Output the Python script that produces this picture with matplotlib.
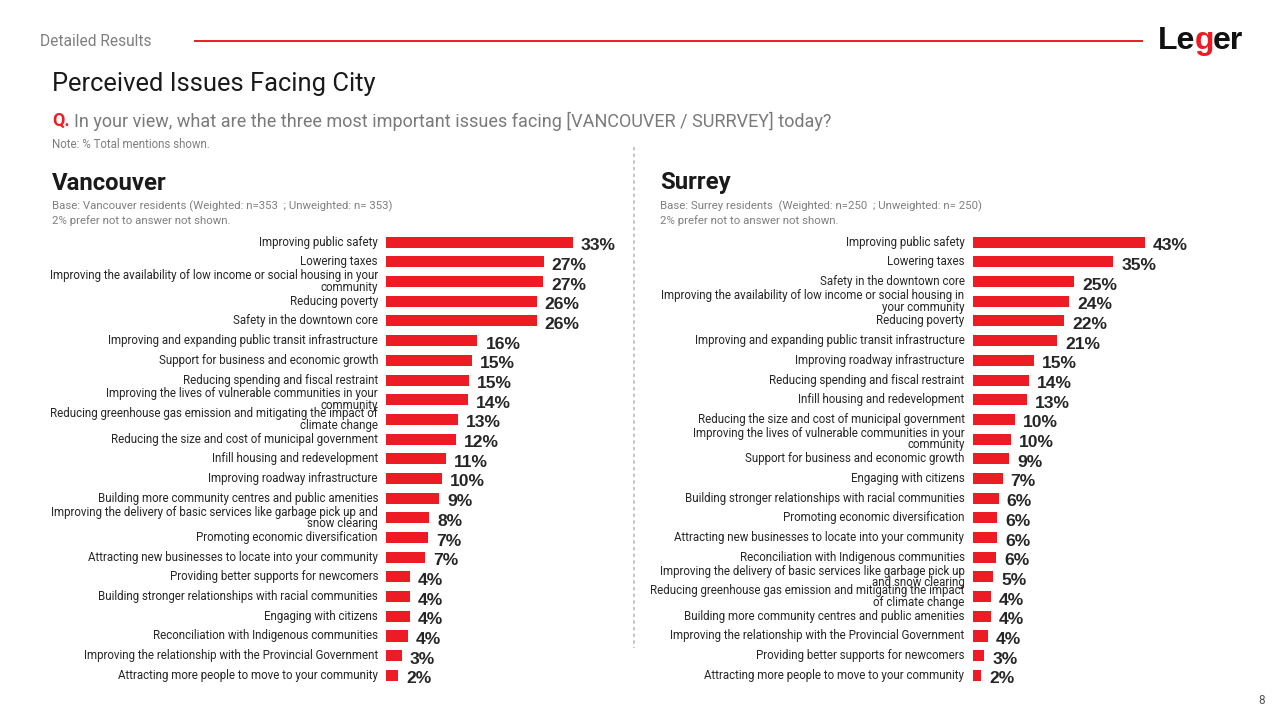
import matplotlib
matplotlib.use("Agg")
import matplotlib.pyplot as plt
from matplotlib.transforms import offset_copy
from matplotlib.lines import Line2D

plt.rcParams['font.family'] = ['Roboto', 'DejaVu Sans']

# ---------------- data ----------------
van_labels = [
    "Improving public safety",
    "Lowering taxes",
    "Improving the availability of low income or social housing in your\ncommunity",
    "Reducing poverty",
    "Safety in the downtown core",
    "Improving and expanding public transit infrastructure",
    "Support for business and economic growth",
    "Reducing spending and fiscal restraint",
    "Improving the lives of vulnerable communities in your\ncommunity",
    "Reducing greenhouse gas emission and mitigating the impact of\nclimate change",
    "Reducing the size and cost of municipal government",
    "Infill housing and redevelopment",
    "Improving roadway infrastructure",
    "Building more community centres and public amenities",
    "Improving the delivery of basic services like garbage pick up and\nsnow clearing",
    "Promoting economic diversification",
    "Attracting new businesses to locate into your community",
    "Providing better supports for newcomers",
    "Building stronger relationships with racial communities",
    "Engaging with citizens",
    "Reconciliation with Indigenous communities",
    "Improving the relationship with the Provincial Government",
    "Attracting more people to move to your community",
]
van_values = [32.5, 27.4, 27.3, 26.2, 26.2, 15.9, 15.0, 14.5, 14.2, 12.5, 12.2, 10.4,
              9.8, 9.2, 7.5, 7.3, 6.8, 4.1, 4.1, 4.1, 3.8, 2.7, 2.1]
van_display = ["33%", "27%", "27%", "26%", "26%", "16%", "15%", "15%", "14%", "13%", "12%", "11%",
               "10%", "9%", "8%", "7%", "7%", "4%", "4%", "4%", "4%", "3%", "2%"]

sur_labels = [
    "Improving public safety",
    "Lowering taxes",
    "Safety in the downtown core",
    "Improving the availability of low income or social housing in\nyour community",
    "Reducing poverty",
    "Improving and expanding public transit infrastructure",
    "Improving roadway infrastructure",
    "Reducing spending and fiscal restraint",
    "Infill housing and redevelopment",
    "Reducing the size and cost of municipal government",
    "Improving the lives of vulnerable communities in your\ncommunity",
    "Support for business and economic growth",
    "Engaging with citizens",
    "Building stronger relationships with racial communities",
    "Promoting economic diversification",
    "Attracting new businesses to locate into your community",
    "Reconciliation with Indigenous communities",
    "Improving the delivery of basic services like garbage pick up\nand snow clearing",
    "Reducing greenhouse gas emission and mitigating the impact\nof climate change",
    "Building more community centres and public amenities",
    "Improving the relationship with the Provincial Government",
    "Providing better supports for newcomers",
    "Attracting more people to move to your community",
]
sur_values = [43.0, 35.2, 25.4, 24.2, 22.9, 21.1, 15.4, 14.2, 13.6, 10.5, 9.7, 9.1,
              7.5, 6.5, 6.1, 6.1, 5.9, 5.2, 4.6, 4.6, 3.8, 2.9, 2.2]
sur_display = ["43%", "35%", "25%", "24%", "22%", "21%", "15%", "14%", "13%", "10%", "10%", "9%",
               "7%", "6%", "6%", "6%", "6%", "5%", "4%", "4%", "4%", "3%", "2%"]

# ---------------- style ----------------
W, H = 1274, 713
RED = "#ED1C24"
DARK = "#262626"
GRAY = "#7F7F7F"

fig = plt.figure(figsize=(W / 100, H / 100), dpi=100)
fig.patch.set_facecolor("white")


def px(x, y):
    return x / W, 1 - y / H


def ftext(x, y, s, **kw):
    fx, fy = px(x, y)
    return fig.text(fx, fy, s, **kw)


# header
ftext(40, 41, "Detailed Results", fontsize=11.2, color=GRAY, va="center", ha="left")
fig.add_artist(Line2D([195 / W, 1142 / W], [1 - 41 / H, 1 - 41 / H], color=RED, lw=1.4))

# logo
r = fig.canvas.get_renderer()
lx = 1158
parts = [("Le", "#111111"), ("g", RED), ("er", "#111111")]
for s, c in parts:
    t = ftext(lx, 41, s, fontsize=23, fontweight="bold", color=c, va="center", ha="left",
              family=["Liberation Sans", "DejaVu Sans"])
    bb = t.get_window_extent(r)
    lx += bb.width - 1

ftext(52, 84, "Perceived Issues Facing City", fontsize=18.4, color="#1A1A1A", va="center", ha="left")
tq = ftext(52, 121, "Q.", fontsize=12.95, color=RED, fontweight="bold", va="center", ha="left")
qb = tq.get_window_extent(r)
ftext(52 + qb.width + 4, 121,
      "In your view, what are the three most important issues facing [VANCOUVER / SURRVEY] today?",
      fontsize=12.95, color="#7A7A7A", va="center", ha="left")
ftext(52, 145, "Note: % Total mentions shown.", fontsize=8.3, color=GRAY, va="center", ha="left")

# divider
fig.add_artist(Line2D([634 / W, 634 / W], [1 - 147 / H, 1 - 648 / H], color="#BBBBBB", lw=1.2,
                      linestyle=(0, (2, 2))))

# panel headers
for x0, name, base in [
    (52, "Vancouver", "Base: Vancouver residents (Weighted: n=353  ; Unweighted: n= 353)"),
    (660, "Surrey", "Base: Surrey residents  (Weighted: n=250  ; Unweighted: n= 250)"),
]:
    ftext(x0, 183, name, fontsize=17.2, fontweight="bold", color="#1A1A1A", va="center", ha="left")
    ftext(x0, 206, base, fontsize=8.2, color=GRAY, va="center", ha="left")
    ftext(x0, 220.5, "2% prefer not to answer not shown.", fontsize=8.2, color=GRAY, va="center", ha="left")

ftext(1262, 701, "8", fontsize=8.5, color="#555555", va="center", ha="center")

# ---------------- bars ----------------
row0, step = 242.2, 19.69
n = len(van_labels)
top_px = row0 - step / 2
bot_px = row0 + (n - 1) * step + step / 2


def panel(x_left, scale, xmax, labels, values, display):
    ax = fig.add_axes([x_left / W, 1 - bot_px / H, xmax * scale / W, (bot_px - top_px) / H])
    y = list(range(len(labels)))
    ax.barh(y, values, height=0.56, color=RED, edgecolor="none")
    ax.set_xlim(0, xmax)
    ax.set_ylim(len(labels) - 0.5, -0.5)
    ax.axis("off")
    lab_tr = offset_copy(ax.transData, fig=fig, x=-8, y=0, units="dots")
    val_tr = offset_copy(ax.transData, fig=fig, x=8, y=-3.5, units="dots")
    for i, (lab, v, d) in enumerate(zip(labels, values, display)):
        ax.text(0, i, lab, transform=lab_tr, ha="right", va="center",
                fontsize=8.3, color=DARK, linespacing=0.86, clip_on=False,
                multialignment="right")
        ax.text(v, i, d, transform=val_tr, ha="left", va="center", fontsize=12.6,
                fontweight="bold", color=DARK, clip_on=False,
                family=["Liberation Sans", "DejaVu Sans"])
    return ax


panel(386, 5.75, 40, van_labels, van_values, van_display)
panel(972.5, 4.0, 50, sur_labels, sur_values, sur_display)

fig.savefig("out.png", dpi=100, facecolor="white")
